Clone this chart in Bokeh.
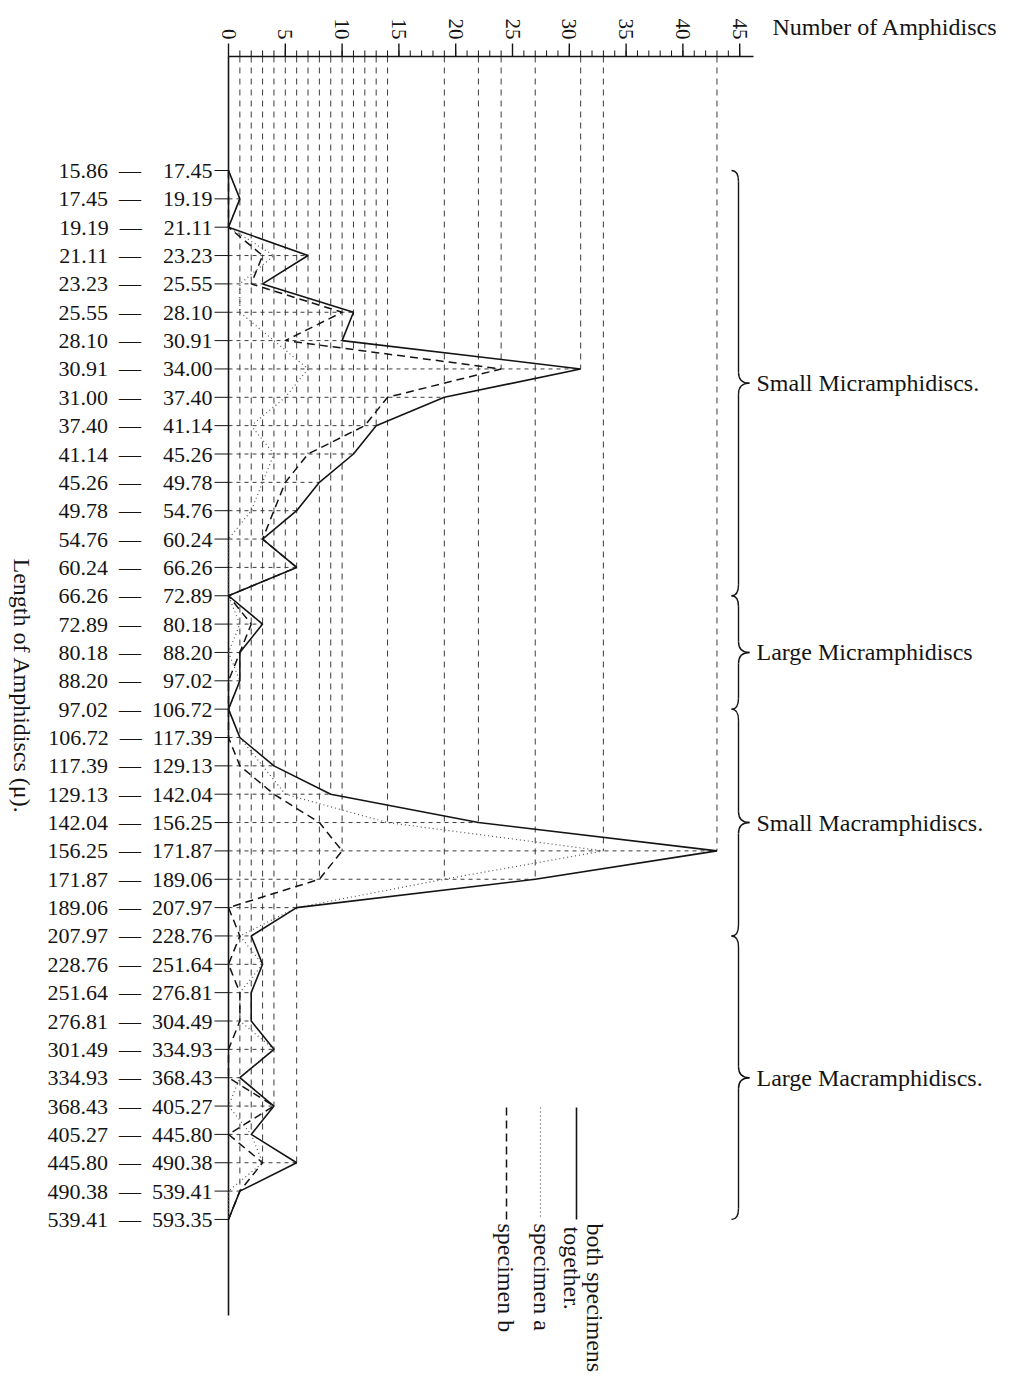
import math

from bokeh.core.properties import value
from bokeh.embed import file_html
from bokeh.models import Range1d
from bokeh.plotting import figure
from bokeh.resources import INLINE

# Size classes of the amphidiscs (length in micra), one row each
range_lo = ["15.86", "17.45", "19.19", "21.11", "23.23", "25.55", "28.10", "30.91",
            "31.00", "37.40", "41.14", "45.26", "49.78", "54.76", "60.24", "66.26",
            "72.89", "80.18", "88.20", "97.02", "106.72", "117.39", "129.13", "142.04",
            "156.25", "171.87", "189.06", "207.97", "228.76", "251.64", "276.81",
            "301.49", "334.93", "368.43", "405.27", "445.80", "490.38", "539.41"]
range_hi = ["17.45", "19.19", "21.11", "23.23", "25.55", "28.10", "30.91", "34.00",
            "37.40", "41.14", "45.26", "49.78", "54.76", "60.24", "66.26", "72.89",
            "80.18", "88.20", "97.02", "106.72", "117.39", "129.13", "142.04", "156.25",
            "171.87", "189.06", "207.97", "228.76", "251.64", "276.81", "304.49",
            "334.93", "368.43", "405.27", "445.80", "490.38", "539.41", "593.35"]

# Number of amphidiscs counted in each size class
both_specimens = [0, 1, 0, 7, 3, 11, 10, 31, 19, 13, 11, 8, 6, 3, 6, 0, 3, 1, 1, 0,
                  1, 4, 9, 22, 43, 27, 6, 2, 3, 2, 2, 4, 1, 4, 2, 6, 1, 0]
specimen_a = [0, 1, 0, 4, 1, 1, 4, 7, 5, 2, 4, 3, 2, 0, 0, 0, 1, 0, 1, 0,
              1, 3, 5, 14, 33, 19, 6, 1, 3, 1, 1, 4, 1, 0, 2, 3, 0, 0]
specimen_b = [0, 0, 0, 3, 2, 10, 5, 24, 14, 12, 7, 5, 4, 3, 6, 0, 2, 1, 0, 0,
              0, 1, 4, 8, 10, 8, 0, 1, 0, 1, 1, 0, 0, 4, 0, 3, 1, 0]

# Count scale ticks
count_major_ticks = [0, 5, 10, 15, 20, 25, 30, 35, 40, 45]
count_minor_ticks = list(range(0, 46))

# Groups of size classes marked with braces: (first row, last row)
group_names = ["Small  Micramphidiscs.", "Large  Micramphidiscs",
               "Small  Macramphidiscs.", "Large  Macramphidiscs."]
group_bounds = [(0, 15), (15, 19), (19, 27), (27, 37)]

rows = list(range(len(range_lo)))

# ---- page geometry (pixels) ----
W, H = 1028, 1398
PX_X0, PX_PER_UNIT = 228.0, 11.36     # count 0 on the horizontal scale
PX_Y0, PX_PER_ROW = 170.0, 28.35      # first size class


def xv(px):
    return (px - PX_X0) / PX_PER_UNIT


def rv(py):
    return (py - PX_Y0) / PX_PER_ROW


def dx(px):
    return px / PX_PER_UNIT


def dr(py):
    return py / PX_PER_ROW


TOP_LINE = rv(56)          # the count scale line
AXIS_END = xv(753)         # right end of the count scale line
LEFT_END = rv(1315)        # bottom end of the size axis line

SERIF = "Liberation Serif"
INK = "#141414"
GUIDE = "#3c3c3c"

p = figure(width=W, height=H,
           x_range=Range1d(xv(0), xv(W)),
           y_range=Range1d(rv(H), rv(0)),
           x_axis_location=None, y_axis_location=None,
           output_backend="svg", toolbar_location=None,
           min_border=0)
p.outline_line_color = None
p.background_fill_color = "white"
p.border_fill_color = "white"
p.xgrid.visible = False
p.ygrid.visible = False

# ---- projection lines from every point to both scales ----
series = [both_specimens, specimen_a, specimen_b]
lowest_row = {}
for s in series:
    for i, v in enumerate(s):
        if v > 0:
            lowest_row[v] = max(lowest_row.get(v, -1), i)
vx = sorted(lowest_row)
p.segment(x0=vx, y0=[TOP_LINE] * len(vx), x1=vx, y1=[lowest_row[v] for v in vx],
          line_color=GUIDE, line_width=1.0, line_dash="6 5")

row_max = [max(s[i] for s in series) for i in rows]
hr = [i for i in rows if row_max[i] > 0]
p.segment(x0=[0] * len(hr), y0=hr, x1=[row_max[i] for i in hr], y1=hr,
          line_color=GUIDE, line_width=1.0, line_dash="4 4")

# ---- count scale along the top ----
p.segment(x0=[0], y0=[TOP_LINE], x1=[AXIS_END], y1=[TOP_LINE],
          line_color=INK, line_width=1.6)
p.segment(x0=count_minor_ticks, y0=[TOP_LINE] * len(count_minor_ticks),
          x1=count_minor_ticks, y1=[TOP_LINE - dr(6)] * len(count_minor_ticks),
          line_color=INK, line_width=1.0)
p.segment(x0=count_major_ticks, y0=[TOP_LINE] * len(count_major_ticks),
          x1=count_major_ticks, y1=[TOP_LINE - dr(13)] * len(count_major_ticks),
          line_color=INK, line_width=1.4)
p.text(x=count_major_ticks, y=[TOP_LINE - dr(17)] * len(count_major_ticks),
       text=[str(t) for t in count_major_ticks], angle=-math.pi / 2,
       text_font=value(SERIF), text_font_size=value("21px"), text_color=INK,
       text_align="right", text_baseline="middle")
p.text(x=[xv(772)], y=[rv(26)], text=["Number of Amphidiscs"],
       text_font=value(SERIF), text_font_size=value("24px"), text_color=INK,
       text_align="left", text_baseline="middle")

# ---- size classes along the left ----
p.segment(x0=[0], y0=[TOP_LINE], x1=[0], y1=[LEFT_END], line_color=INK, line_width=1.6)
p.segment(x0=[-dx(14)] * len(rows), y0=rows, x1=[0] * len(rows), y1=rows,
          line_color=INK, line_width=1.0)
FIG_SP = "\u2007"
row_labels = [f"{lo.rjust(6, FIG_SP)}\u2002\u2014\u2002{hi.rjust(6, FIG_SP)}"
              for lo, hi in zip(range_lo, range_hi)]
p.text(x=[-dx(16)] * len(rows), y=rows, text=row_labels,
       text_font=value(SERIF), text_font_size=value("22px"), text_color=INK,
       text_align="right", text_baseline="middle")
p.text(x=[xv(21)], y=[rv(558)], text=["Length of Amphidiscs (\u03bc)."],
       angle=-math.pi / 2,
       text_font=value(SERIF), text_font_size=value("24px"), text_color=INK,
       text_align="left", text_baseline="middle")

# ---- the three curves ----
p.line(specimen_a, rows, line_color="#505050", line_width=1.2, line_dash="1 3")
p.line(specimen_b, rows, line_color=INK, line_width=1.5, line_dash="8 5")
p.line(both_specimens, rows, line_color=INK, line_width=1.6)

# ---- braces for the four groups ----
xs = xv(738)
hook = dx(7)
tip = dx(11)
rr = dr(11)
qx0, qy0, qx1, qy1, qcx, qcy = [], [], [], [], [], []
sx0, sy0, sx1, sy1 = [], [], [], []
mids = []
for r0, r1 in group_bounds:
    m = (r0 + r1) / 2
    mids.append(m)
    for a in [(xs - hook, r0, xs, r0 + rr, xs, r0),
              (xs, m - rr, xs + tip, m, xs, m),
              (xs + tip, m, xs, m + rr, xs, m),
              (xs, r1 - rr, xs - hook, r1, xs, r1)]:
        qx0.append(a[0]); qy0.append(a[1]); qx1.append(a[2])
        qy1.append(a[3]); qcx.append(a[4]); qcy.append(a[5])
    sx0 += [xs, xs]; sy0 += [r0 + rr, m + rr]
    sx1 += [xs, xs]; sy1 += [m - rr, r1 - rr]
p.quadratic(x0=qx0, y0=qy0, x1=qx1, y1=qy1, cx=qcx, cy=qcy, line_color=INK, line_width=1.4)
p.segment(x0=sx0, y0=sy0, x1=sx1, y1=sy1, line_color=INK, line_width=1.4)

p.text(x=[xv(756)] * len(mids), y=mids, text=group_names,
       text_font=value(SERIF), text_font_size=value("24px"), text_color=INK,
       text_align="left", text_baseline="middle")

# ---- key ----
key_x = [xv(576), xv(540), xv(506)]
key_dash = ["solid", "1 3", "8 5"]
key_color = [INK, "#505050", INK]
key_width = [1.6, 1.2, 1.5]
for kx, kd, kc, kw in zip(key_x, key_dash, key_color, key_width):
    p.line([kx, kx], [rv(1107), rv(1219)], line_color=kc, line_dash=kd, line_width=kw)

p.text(x=[xv(594), xv(571), xv(541), xv(505)],
       y=[rv(1223), rv(1226), rv(1223), rv(1223)],
       text=["both  specimens", "together.", "specimen  a", "specimen  b"],
       angle=-math.pi / 2,
       text_font=value(SERIF), text_font_size=value("24px"), text_color=INK,
       text_align="left", text_baseline="middle")

open("out.html", "w").write(file_html(p, INLINE))
